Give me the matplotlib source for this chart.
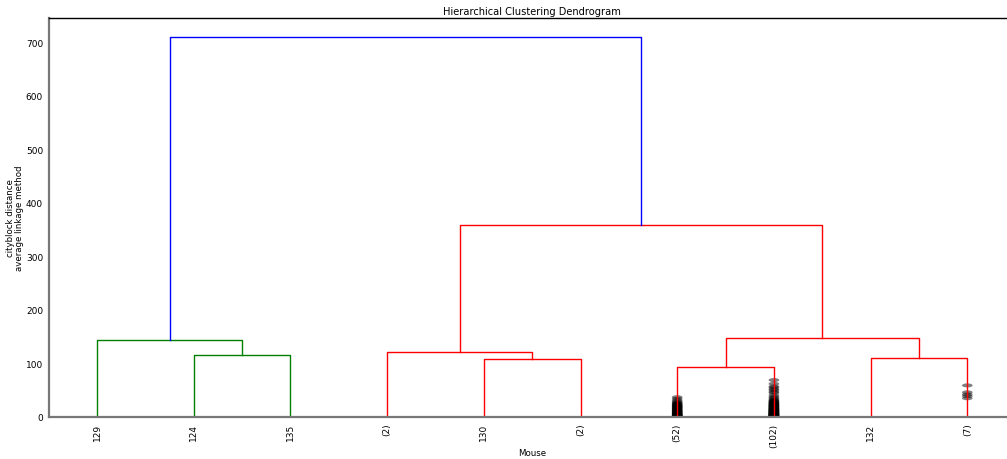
import matplotlib.pyplot as plt
from matplotlib.patches import Ellipse

# leaves left to right, as shown on the axis
leaf_labels = ['129', '124', '135', '(2)', '130', '(2)', '(52)', '(102)', '132', '(7)']

# merges: (left node, right node, distance, colour)
# node ids 0..9 are leaves, 10.. are the merges in this order
merges = [
    (1, 2, 115.7, 'g'),      # 10
    (0, 10, 143.7, 'g'),     # 11
    (4, 5, 108.3, 'r'),      # 12
    (3, 12, 120.5, 'r'),     # 13
    (6, 7, 93.0, 'r'),       # 14
    (8, 9, 111.0, 'r'),      # 15
    (14, 15, 147.5, 'r'),    # 16
    (13, 16, 358.5, 'r'),    # 17
    (11, 17, 709.5, 'b'),    # 18
]

# heights of merges hidden inside the truncated leaves
contracted_52 = [37, 34, 31, 29, 27, 26, 25, 24, 23, 22, 21, 21, 20, 19, 18, 18, 17, 16,
                 15, 15, 14, 13, 12, 12, 11, 10, 10, 9, 9, 8, 7, 7, 6, 6, 5, 5, 4, 4, 3,
                 3, 3, 2, 2, 2, 1, 1, 1, 0, 0, 0]
contracted_102 = [69, 62, 57, 55, 52, 50, 47, 45, 41, 38, 36, 34, 32, 31, 30, 29, 28, 27,
                  27, 26, 25, 25, 24, 23, 23, 22, 22, 21, 21, 20, 20, 19, 19, 18, 18, 17,
                  17, 16, 16, 15, 15, 15, 14, 14, 13, 13, 13, 12, 12, 12, 11, 11, 11, 10,
                  10, 10, 9, 9, 9, 8, 8, 8, 7, 7, 7, 7, 6, 6, 6, 6, 5, 5, 5, 5, 4, 4, 4,
                  4, 3, 3, 3, 3, 3, 2, 2, 2, 2, 2, 1, 1, 1, 1, 1, 1, 0, 0, 0, 0, 0, 0]
contracted_7 = [59, 46, 42, 39, 35]
contracted = {6: contracted_52, 7: contracted_102, 9: contracted_7}

plt.rcParams['font.family'] = ['DejaVu Sans']
fig = plt.figure(figsize=(10.07, 4.6), dpi=100)
ax = fig.add_axes([48.65 / 1007, 42 / 460, 967 / 1007, 399 / 460])

# x position and height of every node
xpos = {i: 10 * i + 5 for i in range(len(leaf_labels))}
ypos = {i: 0.0 for i in range(len(leaf_labels))}
node = len(leaf_labels)
for left, right, dist, col in merges:
    xl, xr = xpos[left], xpos[right]
    ax.plot([xl, xl, xr, xr], [ypos[left], dist, dist, ypos[right]], color=col, lw=1.0, zorder=2)
    xpos[node] = (xl + xr) / 2.0
    ypos[node] = dist
    node += 1

# contraction marks, half transparent so stacked ones go dark
top = merges[-1][2] * 1.05
for leaf, heights in contracted.items():
    for h in heights:
        e = Ellipse((xpos[leaf], h), width=1.1, height=top / 100, facecolor='k', alpha=0.5,
                    edgecolor='none', zorder=1)
        ax.add_patch(e)

ax.set_xlim(0, 10 * len(leaf_labels))
ax.set_ylim(0, top)
ax.set_xticks([xpos[i] for i in range(len(leaf_labels))])
ax.set_xticklabels(leaf_labels, rotation=90)
ax.set_yticks(range(0, 701, 100))
ax.tick_params(length=0, labelsize=6.5, pad=4)

for side in ['left', 'bottom']:
    ax.spines[side].set_color('#777777')
    ax.spines[side].set_linewidth(1.6)
ax.spines['top'].set_linewidth(1.0)
ax.spines['right'].set_visible(False)

ax.set_title('Hierarchical Clustering Dendrogram', fontsize=7.1, pad=3)
ax.set_xlabel('Mouse', fontsize=6.2, labelpad=1)
ax.set_ylabel('cityblock distance\naverage linkage method', fontsize=6.2, linespacing=1.0)
ax.yaxis.set_label_coords(-0.025, 0.5)

fig.savefig('out.png', dpi=100)
